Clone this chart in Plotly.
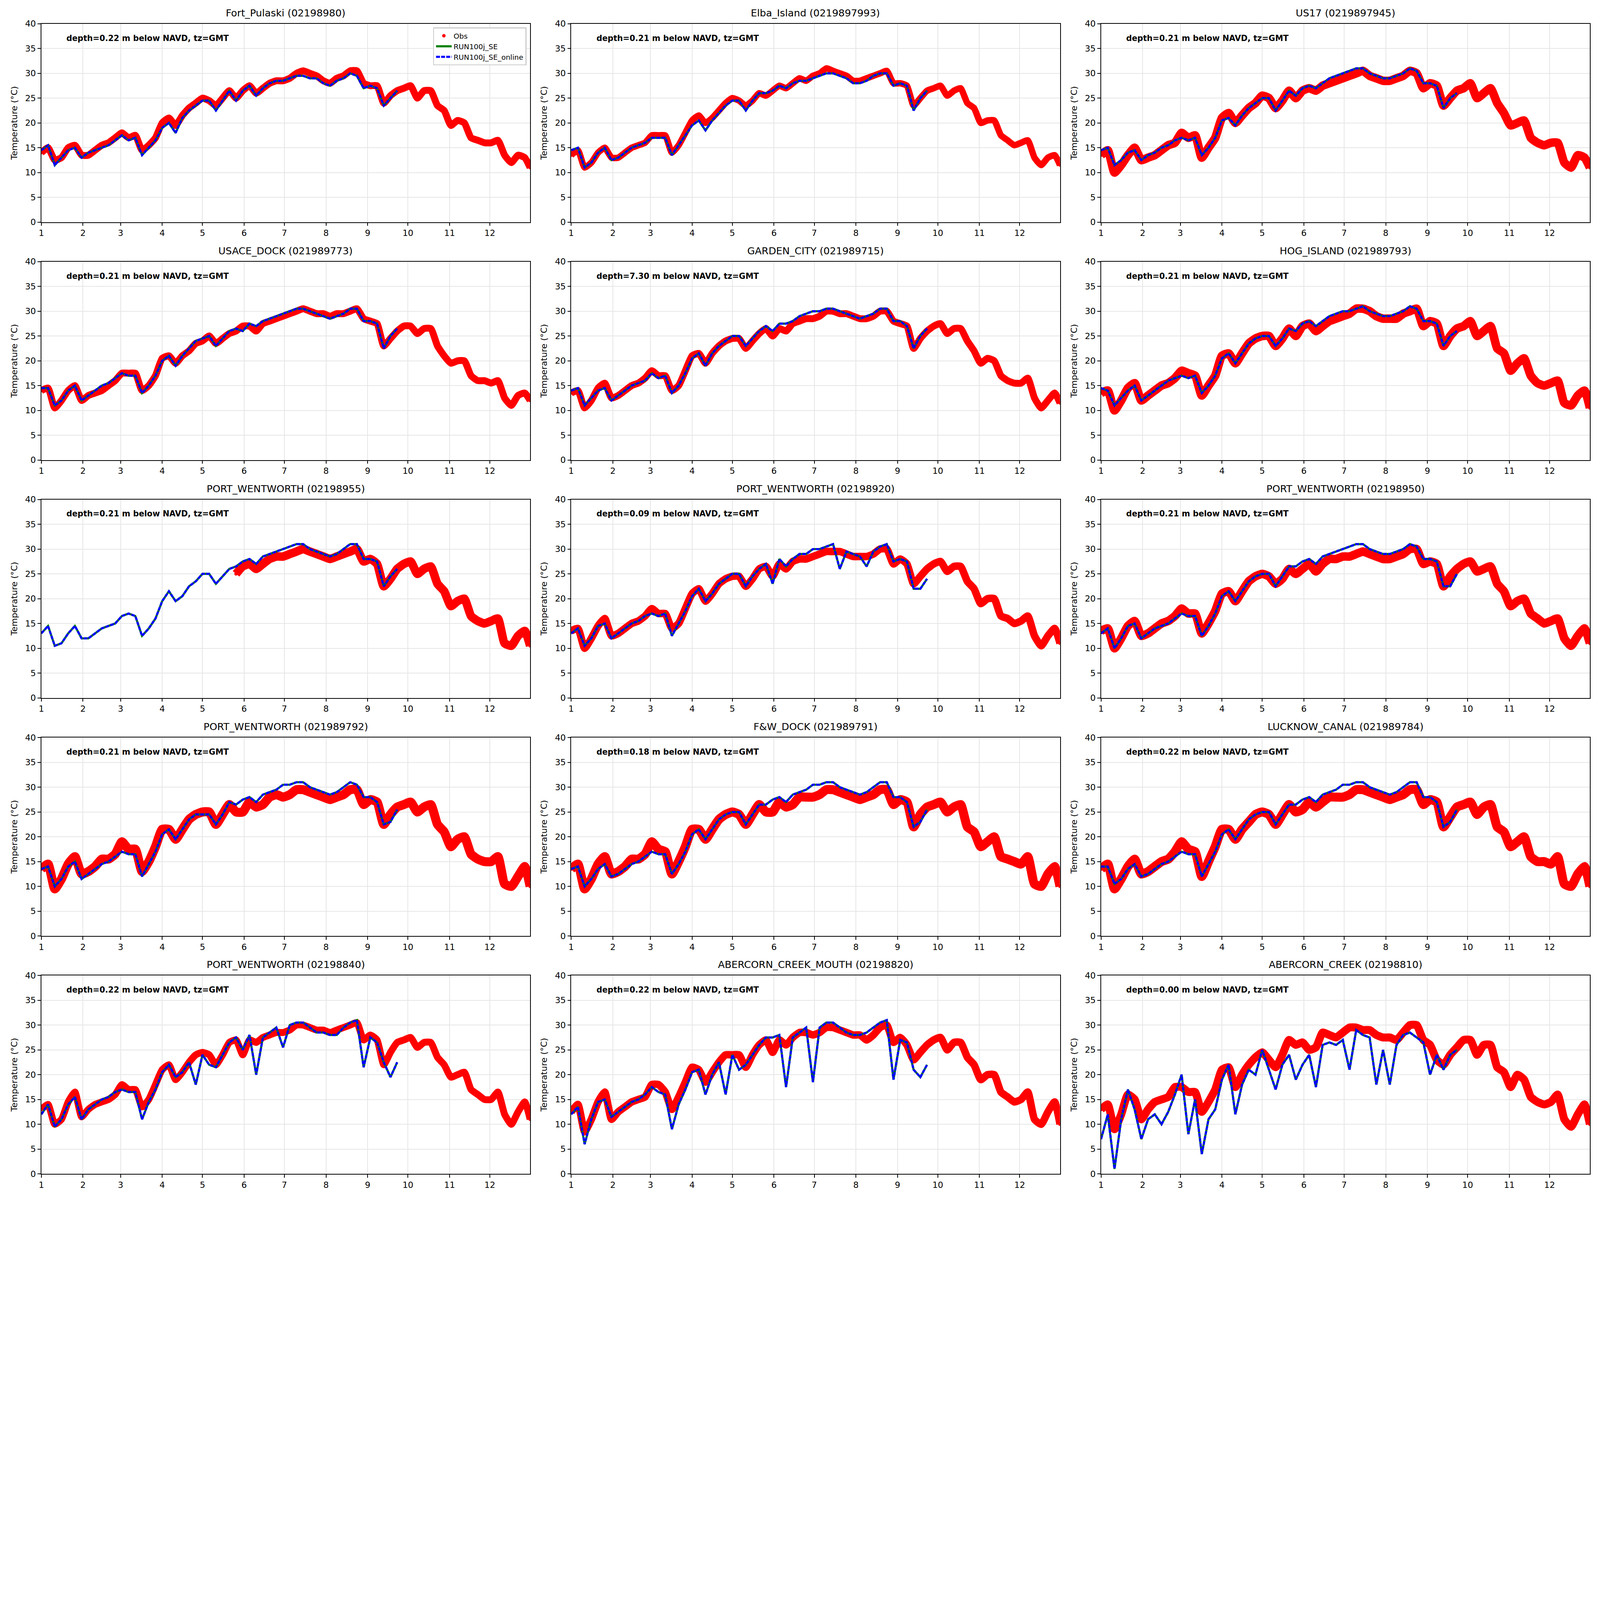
import datetime as dt
import plotly.graph_objects as go

# sampled every 5 days (obs to end of year, model runs to late September)
OBS_DAYS = list(range(0, 365, 5)) + [364]
MODEL_DAYS = list(range(0, 270, 5))

STATION_NAMES = ["Fort_Pulaski", "Elba_Island", "US17",
                 "USACE_DOCK", "GARDEN_CITY", "HOG_ISLAND",
                 "PORT_WENTWORTH", "PORT_WENTWORTH", "PORT_WENTWORTH",
                 "PORT_WENTWORTH", "F&W_DOCK", "LUCKNOW_CANAL",
                 "PORT_WENTWORTH", "ABERCORN_CREEK_MOUTH", "ABERCORN_CREEK"]
STATION_IDS = ["02198980", "0219897993", "0219897945",
               "021989773", "021989715", "021989793",
               "02198955", "02198920", "02198950",
               "021989792", "021989791", "021989784",
               "02198840", "02198820", "02198810"]
DEPTHS = [0.22, 0.21, 0.21, 0.21, 7.30, 0.21, 0.21, 0.09, 0.21,
          0.21, 0.18, 0.22, 0.22, 0.22, 0.00]

OBS_FORT_PULASKI = [14, 15, 12.5, 13, 15, 15.5, 13.5, 13.5, 14.5, 15.5,
                    16, 17, 18, 17, 17.5, 14.5, 15.5, 17, 20, 21,
                    19.5, 21.5, 23, 24, 25, 24.5, 23.5, 25, 26.5, 25,
                    26.5, 27.5, 26, 27, 28, 28.5, 28.5, 29, 30, 30.5,
                    30, 29.5, 28.5, 28, 29, 29.5, 30.5, 30.5, 28, 27.5,
                    27.5, 24, 25.5, 26.5, 27, 27.5, 25, 26.5, 26.5, 23.5,
                    22.5, 19.5, 20.5, 20, 17, 16.5, 16, 16, 16.5, 13.5,
                    12, 13.5, 13, 11]
MOD_FORT_PULASKI = [14.5, 15.5, 11.5, 13, 14.5, 15, 13, 14, 14.5, 15,
                    15.5, 16.5, 17.5, 16.5, 17, 13.5, 15, 16.5, 19, 20,
                    18, 21, 22.5, 23.5, 24.5, 24.5, 22.5, 24.5, 26.5, 24.5,
                    26.5, 27.5, 25.5, 27, 28, 28.5, 28.5, 29, 29.5, 29.5,
                    29, 29, 28, 27.5, 28.5, 29, 30, 29.5, 27, 27.5,
                    27, 23.5, 25, 26.5]

OBS_ELBA = [13.5, 14.5, 11, 12, 14, 15, 13, 13, 14, 15,
            15.5, 16, 17.5, 17.5, 17.5, 14, 15.5, 18, 20.5, 21.5,
            20, 21, 22.5, 24, 25, 24.5, 23.5, 24.5, 26, 25.5,
            26.5, 27.5, 27, 28, 29, 28.5, 29.5, 30, 31, 30.5,
            30, 29.5, 28.5, 28.5, 29, 29.5, 30, 30.5, 28, 28,
            27.5, 23.5, 25, 26.5, 27, 27.5, 25.5, 26.5, 27, 24,
            23, 20, 20.5, 20.5, 17.5, 16.5, 15.5, 16, 16.5, 13,
            11.5, 13, 13.5, 11.5]
MOD_ELBA = [14.5, 15, 11, 12, 14, 15, 12.5, 13, 14, 15,
            15.5, 16, 17, 17, 17, 13.5, 15.5, 17.5, 19.5, 20.5,
            18.5, 20.5, 22, 23.5, 24.5, 24.5, 22.5, 24.5, 26, 26,
            26.5, 27.5, 27, 28, 28.5, 28.5, 29, 29.5, 30, 30,
            29.5, 29, 28, 28, 28.5, 29.5, 30, 30, 27.5, 28,
            27.5, 22.5, 25, 26.5]

OBS_US17 = [13.5, 14.5, 10, 11.5, 13.5, 15, 12.5, 13, 13.5, 14.5,
            15.5, 16, 18, 17, 17.5, 13, 15, 17, 21, 22,
            20, 21.5, 23, 24, 25.5, 25, 23, 24.5, 26.5, 25,
            26.5, 27, 26.5, 27.5, 28, 28.5, 29, 29.5, 30, 30.5,
            29.5, 29, 28.5, 28.5, 29, 29.5, 30.5, 30, 27, 28,
            27.5, 23.5, 25, 26.5, 27, 28, 25, 26, 27, 24,
            22, 19.5, 20, 20.5, 17, 16, 15.5, 16, 16, 12,
            11, 13.5, 13, 11]
MOD_US17 = [14.5, 15, 11.5, 12.5, 14, 14.5, 12.5, 13.5, 14, 15,
            15.5, 16.5, 17, 16.5, 17, 13.5, 15, 17, 20.5, 21,
            19.5, 21.5, 23, 24, 25, 25, 22.5, 24.5, 26.5, 25.5,
            27, 27.5, 27, 28, 29, 29.5, 30, 30.5, 31, 31,
            30, 29.5, 29, 29, 29.5, 30, 31, 30.5, 28, 28,
            27.5, 23, 25, 26]

OBS_USACE = [14, 14.5, 10.5, 12, 14, 15, 12, 13, 13.5, 14,
             15, 16, 17.5, 17.5, 17.5, 14, 15, 17, 20.5, 21,
             19.5, 21, 22, 23.5, 24, 25, 23.5, 24.5, 25.5, 26,
             27, 27, 26, 27.5, 28, 28.5, 29, 29.5, 30, 30.5,
             30, 29.5, 29.5, 29, 29.5, 29.5, 30, 30.5, 28.5, 28,
             27.5, 23, 24.5, 26, 27, 27, 25.5, 26.5, 26.5, 23,
             21, 19.5, 20, 20, 17, 16, 16, 15.5, 16, 12.5,
             11, 13, 13.5, 12]
MOD_USACE = [14.5, 14.5, 11, 12, 14, 15, 12, 13, 14, 15,
             15.5, 16.5, 17.5, 17, 17, 13.5, 15, 17, 20, 21,
             19, 21, 22.5, 24, 24.5, 25, 23, 24.5, 26, 26.5,
             26, 27.5, 27, 28, 28.5, 29, 29.5, 30, 30.5, 30.5,
             30, 29.5, 29, 28.5, 29, 29.5, 30.5, 30.5, 28, 28,
             27.5, 22.5, 25, 26.5]

OBS_GARDEN = [13.5, 14, 10.5, 12, 14.5, 15.5, 12.5, 13, 14, 15,
              15.5, 16.5, 18, 17, 17, 14, 15, 18, 21, 21.5,
              19.5, 21.5, 23, 24, 24.5, 24.5, 22.5, 24, 25.5, 26.5,
              25, 26.5, 26, 27.5, 28, 28.5, 28.5, 29, 30, 30,
              29.5, 29.5, 29, 28.5, 28.5, 29, 30, 30, 28, 27.5,
              27, 22.5, 24.5, 26, 27, 27.5, 25.5, 26.5, 26.5, 24,
              22, 19.5, 20.5, 20, 17, 16, 15.5, 15.5, 16.5, 12.5,
              10.5, 12, 13.5, 11.5]
MOD_GARDEN = [14, 14.5, 11, 12.5, 14, 14.5, 12, 13, 14, 15,
              15.5, 16, 17.5, 16.5, 17, 13.5, 15, 17.5, 20.5, 21.5,
              19, 21.5, 23, 24, 25, 25, 23, 24.5, 26, 27,
              26, 27.5, 27.5, 28, 29, 29.5, 30, 30, 30.5, 30.5,
              30, 29.5, 29, 28.5, 29, 29.5, 30.5, 30.5, 28, 28,
              27, 22.5, 25, 26.5]

OBS_HOG = [13.5, 14, 10, 12, 14.5, 15.5, 12, 13, 14, 15,
           15.5, 16.5, 18, 17.5, 17, 13, 15, 17, 21, 21.5,
           19.5, 21.5, 23.5, 24.5, 25, 25, 23, 24.5, 26.5, 25,
           27, 27.5, 26, 27, 28, 28.5, 29, 29.5, 30.5, 30.5,
           30, 29, 28.5, 28.5, 28.5, 29.5, 30, 30.5, 27, 28,
           27.5, 23, 25, 26.5, 27, 28, 25, 26, 27, 22.5,
           21.5, 18, 19.5, 20.5, 17, 15.5, 15, 15.5, 16, 11.5,
           11, 13, 14, 10.5]
MOD_HOG = [14.5, 14, 11, 12.5, 14, 15, 12, 13, 14, 15,
           16, 16.5, 17, 16.5, 17, 13.5, 15, 17, 20.5, 21.5,
           19.5, 21.5, 23.5, 24.5, 25, 25, 23, 24.5, 26.5, 26,
           27.5, 28, 27, 28, 29, 29.5, 30, 30, 30.5, 31,
           30, 29.5, 29, 29, 29.5, 30, 31, 30.5, 28, 28,
           27.5, 23, 25, 26]

# no observations before late May at 02198955
OBS_PW_955 = [None] * 29 + [
    25, 26.5, 27, 26, 27, 28, 28.5, 28.5, 29, 29.5,
    30, 29.5, 29, 28.5, 28, 28.5, 29, 29.5, 30, 27.5,
    28, 27, 22.5, 24, 26, 27, 27.5, 25, 26, 26.5,
    23, 21.5, 18.5, 19.5, 20, 16.5, 15.5, 15, 15.5, 16,
    11, 10.5, 12.5, 13.5, 10.5]
MOD_PW_955 = [13, 14.5, 10.5, 11, 13, 14.5, 12, 12, 13, 14,
              14.5, 15, 16.5, 17, 16.5, 12.5, 14, 16, 19.5, 21.5,
              19.5, 20.5, 22.5, 23.5, 25, 25, 23, 24.5, 26, 26.5,
              27.5, 28, 27, 28.5, 29, 29.5, 30, 30.5, 31, 31,
              30, 29.5, 29, 28.5, 29, 30, 31, 31, 28, 28,
              27.5, 22.5, 24.5, 26]

OBS_PW_920 = [13.5, 14, 10, 12, 14.5, 16, 12.5, 13, 14, 15,
              15.5, 16.5, 18, 17, 17, 14, 15, 18, 21, 22,
              19.5, 21, 23, 24, 24.5, 24.5, 22.5, 24, 26, 26.5,
              24.5, 27, 26, 27.5, 28, 28, 28.5, 29, 29.5, 29.5,
              29.5, 29, 28.5, 28.5, 28.5, 29, 30, 30, 27, 28,
              27, 23, 24.5, 26, 27, 27.5, 25.5, 26.5, 26.5, 23.5,
              22, 19, 20, 20, 16.5, 16, 15, 15.5, 16.5, 12.5,
              10.5, 12.5, 14, 11]
MOD_PW_920 = [13, 14, 10.5, 12, 14.5, 15, 12, 13, 14, 15,
              15.5, 16.5, 17, 16.5, 17, 12.5, 15, 17.5, 20.5, 22,
              19.5, 21, 23, 24, 25, 25, 22.5, 24.5, 26, 27,
              23, 28, 26.5, 28, 29, 29, 30, 30, 30.5, 31,
              26, 29.5, 29, 28.5, 26.5, 29.5, 30.5, 31, 27.5, 28,
              27.5, 22, 22, 24]

OBS_PW_950 = [13.5, 14, 10, 12, 14.5, 15.5, 12.5, 13, 14, 15,
              15.5, 16.5, 18, 17, 17, 13, 15, 17.5, 21, 21.5,
              19.5, 21.5, 23.5, 24.5, 25, 24.5, 23, 24, 26, 25,
              26, 27, 25.5, 27, 28, 28, 28.5, 28.5, 29, 29.5,
              29, 28.5, 28, 28, 28.5, 29, 30, 30, 27, 27.5,
              27, 22.5, 24.5, 26, 27, 27.5, 25.5, 26, 26.5, 23,
              21.5, 18.5, 19.5, 20, 17, 16, 15, 15.5, 16, 12,
              10.5, 12.5, 14, 11]
MOD_PW_950 = [13, 14, 10, 12, 14.5, 15, 12, 13, 14, 14.5,
              15, 16, 17, 16.5, 16.5, 12.5, 14.5, 17, 20.5, 21.5,
              19.5, 21.5, 23.5, 24.5, 25, 25, 22.5, 24.5, 26.5, 26.5,
              27.5, 28, 27, 28.5, 29, 29.5, 30, 30.5, 31, 31,
              30, 29.5, 29, 29, 29.5, 30, 31, 30.5, 28, 28,
              27.5, 22.5, 22.5, 25]

OBS_PW_792 = [13.5, 14.5, 9.5, 11.5, 14.5, 16, 12.5, 13, 14, 15.5,
              15.5, 16.5, 19, 17.5, 17.5, 13, 15, 18, 21.5, 21.5,
              19.5, 21.5, 23.5, 24.5, 25, 25, 22.5, 24.5, 26.5, 25,
              25, 27, 26, 26.5, 28, 28.5, 28, 28.5, 29.5, 29.5,
              29, 28.5, 28, 27.5, 28, 28.5, 29.5, 29.5, 26.5, 27.5,
              27, 22.5, 24.5, 26, 26.5, 27, 25, 26, 26.5, 22.5,
              21, 18, 19.5, 20, 16.5, 15.5, 15, 15, 16, 10.5,
              10, 12, 14, 10]
MOD_PW_792 = [13.5, 14, 10, 11.5, 14, 15, 11.5, 12.5, 13.5, 14.5,
              15, 16, 17, 16.5, 16.5, 12, 14.5, 17, 20.5, 21.5,
              19.5, 21.5, 23.5, 24.5, 24.5, 24.5, 22.5, 24.5, 27, 26.5,
              27.5, 28, 27, 28.5, 29, 29.5, 30.5, 30.5, 31, 31,
              30, 29.5, 29, 28.5, 29, 30, 31, 30.5, 28, 28,
              27, 22.5, 23, 25.5]

OBS_FW_DOCK = [13.5, 14.5, 9.5, 11.5, 14.5, 16, 12.5, 13, 14, 15.5,
               15.5, 16.5, 19, 17.5, 17, 12.5, 15, 18, 21.5, 21.5,
               19.5, 21.5, 23.5, 24.5, 25, 24.5, 22.5, 24.5, 26.5, 25,
               25, 27, 26, 26.5, 28, 28, 28, 28.5, 29.5, 29.5,
               29, 28.5, 28, 27.5, 28, 28.5, 29.5, 29.5, 26.5, 27.5,
               27, 22, 24.5, 26, 26.5, 27, 25, 26, 26.5, 22,
               21, 18, 19, 20, 16, 15.5, 15, 14.5, 16, 10.5,
               10, 12.5, 14, 10]
MOD_FW_DOCK = [13.5, 14, 10, 11.5, 13.5, 14.5, 12, 12.5, 13.5, 14.5,
               15, 16, 17, 16.5, 16.5, 12.5, 14.5, 17, 20.5, 21.5,
               19.5, 21.5, 23.5, 24.5, 25, 25, 22.5, 24.5, 26.5, 26.5,
               27.5, 28, 27, 28.5, 29, 29.5, 30.5, 30.5, 31, 31,
               30, 29.5, 29, 28.5, 29, 30, 31, 31, 28, 28,
               27, 22, 23, 25.5]

OBS_LUCKNOW = [13.5, 14.5, 9.5, 11.5, 14, 15.5, 12.5, 13, 14, 15,
               15.5, 17, 19, 17.5, 17, 12, 15, 18, 21.5, 21.5,
               19.5, 21.5, 23, 24.5, 25, 24.5, 22.5, 24.5, 26.5, 25,
               25.5, 27, 26, 27, 28, 28, 28, 28.5, 29.5, 29.5,
               29, 28.5, 28, 27.5, 28, 28.5, 29.5, 29.5, 26.5, 27.5,
               27, 22, 24, 26, 26.5, 27, 24.5, 26, 26.5, 22,
               21, 18, 19, 20, 16, 15, 15, 14.5, 16, 10.5,
               10, 12.5, 14, 10]
MOD_LUCKNOW = [14, 14, 10.5, 11.5, 13.5, 14.5, 12, 12.5, 13.5, 14.5,
               15, 16, 17, 16.5, 16.5, 12, 14.5, 17, 20.5, 21.5,
               19.5, 21.5, 23.5, 24.5, 25, 25, 22.5, 24.5, 26.5, 26.5,
               27.5, 28, 27, 28.5, 29, 29.5, 30.5, 30.5, 31, 31,
               30, 29.5, 29, 28.5, 29, 30, 31, 31, 28, 28,
               27, 22, 23, 25.5]

OBS_PW_840 = [13, 14, 10, 11, 14.5, 16.5, 11.5, 13, 14, 14.5,
              15, 16, 18, 17, 17, 13.5, 15, 18, 21, 22,
              19, 20.5, 22.5, 24, 24.5, 24, 22, 24, 26.5, 27,
              24, 27, 26.5, 27.5, 28, 28.5, 28.5, 29, 30, 30,
              29.5, 29, 29, 28.5, 29, 29.5, 30, 30.5, 27, 28,
              27, 22, 24.5, 26.5, 27, 27.5, 25.5, 26.5, 26.5, 23.5,
              22, 19.5, 20, 20.5, 17, 16, 15, 15, 16.5, 12,
              10, 12.5, 14.5, 11]
MOD_PW_840 = [12, 14, 9.5, 11, 14, 15.5, 11, 13, 14, 15,
              15.5, 16.5, 17, 16.5, 16.5, 11, 14.5, 17, 20.5, 22,
              19.5, 20.5, 22.5, 18, 24, 22, 21.5, 24, 26.5, 27.5,
              25, 28, 20, 27.5, 28.5, 29.5, 25.5, 30, 30.5, 30.5,
              29.5, 28.5, 28.5, 28, 28, 29.5, 30.5, 31, 21.5, 27.5,
              26.5, 22.5, 19.5, 22.5]

OBS_ABERCORN_MOUTH = [12.5, 14, 8.5, 11, 14.5, 16.5, 11, 12.5, 13.5, 14.5,
                      15, 15.5, 18, 18, 16.5, 13, 15.5, 18.5, 21.5, 21,
                      18.5, 20.5, 22.5, 24, 24, 24, 21.5, 24, 26, 27,
                      24.5, 27, 26, 27.5, 28.5, 28.5, 28, 28.5, 29.5, 29.5,
                      29, 28.5, 28, 28, 27, 28, 29.5, 30, 26.5, 27.5,
                      26, 23, 24.5, 26, 27, 27.5, 25, 26.5, 26.5, 23.5,
                      22, 19, 20, 20, 16.5, 15.5, 14.5, 15, 16.5, 11,
                      10, 12.5, 14.5, 10]
MOD_ABERCORN_MOUTH = [12, 13.5, 6, 11, 14.5, 15, 11.5, 12.5, 13.5, 14.5,
                      15, 16, 17.5, 16.5, 16, 9, 14, 17, 20.5, 21,
                      16, 20, 22.5, 16, 24, 21, 22, 24, 26, 27.5,
                      27.5, 28, 17.5, 27.5, 28.5, 29.5, 18.5, 29.5, 30.5, 30.5,
                      29.5, 28.5, 28, 28, 28.5, 29.5, 30.5, 31, 19, 27,
                      26.5, 21, 19.5, 22]

OBS_ABERCORN = [13, 14, 9, 12, 16, 15, 11, 13, 14.5, 15,
                15.5, 17.5, 17.5, 16.5, 16.5, 12.5, 14.5, 17, 21, 21.5,
                17.5, 20, 22, 23.5, 24.5, 23, 21.5, 24, 27, 26,
                26.5, 25, 25.5, 28.5, 28, 27.5, 28.5, 29.5, 29.5, 29,
                29, 28, 27.5, 27.5, 27, 28.5, 30, 30, 27, 26,
                23, 22, 24, 25.5, 27, 27, 24, 26, 26, 21.5,
                20.5, 17.5, 20, 19, 15.5, 14.5, 14, 14.5, 16, 11,
                9.5, 12, 14, 10]
MOD_ABERCORN = [7, 12, 1, 11, 17, 13, 7, 11, 12, 10,
                12.5, 16, 20, 8, 15, 4, 11, 13, 19, 22,
                12, 18, 21, 20, 25, 21, 17, 22, 24, 19,
                22, 24, 17.5, 26, 26.5, 26, 27, 21, 29, 28,
                27.5, 18, 25, 18, 26, 28, 28.5, 27.5, 26.5, 20,
                24, 21, 24, 25]

OBS = [OBS_FORT_PULASKI, OBS_ELBA, OBS_US17, OBS_USACE, OBS_GARDEN, OBS_HOG,
       OBS_PW_955, OBS_PW_920, OBS_PW_950, OBS_PW_792, OBS_FW_DOCK, OBS_LUCKNOW,
       OBS_PW_840, OBS_ABERCORN_MOUTH, OBS_ABERCORN]
# RUN100j_SE and RUN100j_SE_online overlap at this scale
RUN_SE = [MOD_FORT_PULASKI, MOD_ELBA, MOD_US17, MOD_USACE, MOD_GARDEN, MOD_HOG,
          MOD_PW_955, MOD_PW_920, MOD_PW_950, MOD_PW_792, MOD_FW_DOCK, MOD_LUCKNOW,
          MOD_PW_840, MOD_ABERCORN_MOUTH, MOD_ABERCORN]
RUN_SE_ONLINE = RUN_SE

for o, m in zip(OBS, RUN_SE):
    assert len(o) == len(OBS_DAYS) and len(m) == len(MODEL_DAYS)

# the page is shown at ~1.46 device px per css px, so work in
# screenshot pixels and scale down
W, H = 4096, 3072
S = W / 6000


def px(v):
    return v * S


# obs band thickness per panel (screenshot px), noisier gauges look thicker
BAND = [26, 24, 32, 26, 26, 32, 32, 28, 32, 34, 34, 34, 26, 28, 30]

AX_W, AX_H = 1833, 744
COL_X = [155, 2142, 4129]
ROW_Y = [89, 981, 1873, 2766, 3658]
FONT = "DejaVu Sans"

base = dt.date(2021, 1, 1)
obs_x = [(base + dt.timedelta(days=d)).isoformat() for d in OBS_DAYS]
mod_x = [(base + dt.timedelta(days=d)).isoformat() for d in MODEL_DAYS]

fig = go.Figure()
layout = {}
annotations = []

for i in range(15):
    r, c = divmod(i, 3)
    n = i + 1
    xa = "x" if n == 1 else f"x{n}"
    ya = "y" if n == 1 else f"y{n}"
    first = n == 1

    fig.add_trace(go.Scatter(
        x=obs_x, y=OBS[i], mode="lines", xaxis=xa, yaxis=ya,
        line=dict(color="red", width=px(BAND[i]), shape="spline", smoothing=0.5),
        connectgaps=False, showlegend=False, hoverinfo="skip"))
    fig.add_trace(go.Scatter(
        x=obs_x, y=OBS[i], mode="markers", xaxis=xa, yaxis=ya, name="Obs",
        marker=dict(color="red", size=px(13)), showlegend=first))
    fig.add_trace(go.Scatter(
        x=mod_x, y=RUN_SE[i], mode="lines", xaxis=xa, yaxis=ya, name="RUN100j_SE",
        line=dict(color="green", width=px(8)), showlegend=first))
    fig.add_trace(go.Scatter(
        x=mod_x, y=RUN_SE_ONLINE[i], mode="lines", xaxis=xa, yaxis=ya,
        name="RUN100j_SE_online",
        line=dict(color="blue", width=px(8), dash="10px,3px"), showlegend=first))

    x0 = COL_X[c] / 6000
    x1 = (COL_X[c] + AX_W) / 6000
    y1 = 1 - ROW_Y[r] / 4500
    y0 = 1 - (ROW_Y[r] + AX_H) / 4500

    axis_common = dict(
        showline=True, linecolor="black", linewidth=px(2.7), mirror=True,
        ticks="outside", ticklen=px(11), tickwidth=px(2.7), tickcolor="black",
        showgrid=True, gridcolor="#e6e6e6", gridwidth=px(3), zeroline=False,
        tickfont=dict(family=FONT, size=px(32), color="black"))
    layout["xaxis" if n == 1 else f"xaxis{n}"] = dict(
        axis_common, domain=[x0, x1], anchor=ya, type="date",
        range=["2021-01-01", "2021-12-31"], dtick="M1", tick0="2021-01-01",
        tickformat="%-m")
    layout["yaxis" if n == 1 else f"yaxis{n}"] = dict(
        axis_common, domain=[y0, y1], anchor=xa, range=[0, 40], dtick=5,
        title=dict(text="Temperature (°C)", standoff=px(20),
                   font=dict(family=FONT, size=px(32), color="black")))

    annotations.append(dict(
        text=f"{STATION_NAMES[i]} ({STATION_IDS[i]})", xref="paper", yref="paper",
        x=(x0 + x1) / 2, y=1 - (ROW_Y[r] - 16) / 4500, xanchor="center",
        yanchor="bottom", showarrow=False,
        font=dict(family=FONT, size=px(37), color="black")))
    annotations.append(dict(
        text=f"<b>depth={DEPTHS[i]:.2f} m below NAVD, tz=GMT</b>",
        xref=f"{xa} domain", yref=f"{ya} domain", x=0.05, y=0.955,
        xanchor="left", yanchor="top", showarrow=False,
        font=dict(family=FONT, size=px(30), color="black")))

fig.update_layout(
    **layout,
    annotations=annotations,
    width=W, height=H,
    template="none",
    paper_bgcolor="white", plot_bgcolor="white",
    margin=dict(l=0, r=0, t=0, b=0),
    font=dict(family=FONT, size=px(32), color="black"),
    legend=dict(x=1974 / 6000, y=1 - 103 / 4500, xanchor="right", yanchor="top",
                bgcolor="white", bordercolor="#cccccc", borderwidth=px(4),
                font=dict(family=FONT, size=px(27), color="black"),
                itemsizing="trace", itemwidth=40, tracegroupgap=0),
)

# drop the default 8px body margin so the figure sits at the page corner
fig.write_html("out.html", config={"displayModeBar": False},
               post_script="document.body.style.margin='0px';")
